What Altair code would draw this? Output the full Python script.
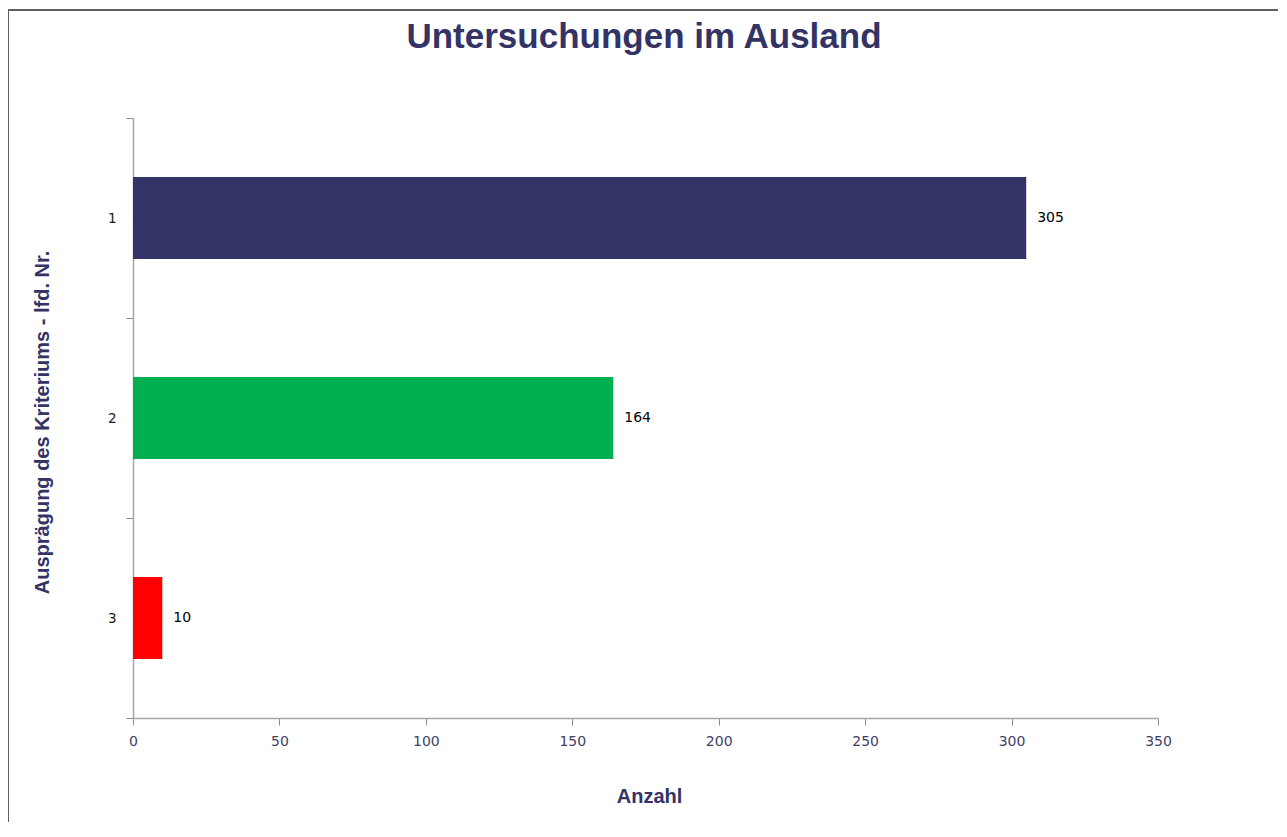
import altair as alt
import pandas as pd

# ---- data ----
categories = ["1", "2", "3"]
values = [305, 164, 10]
bar_colors = ["#333366", "#00B050", "#FF0000"]
x_ticks = [0, 50, 100, 150, 200, 250, 300, 350]

title_text = "Untersuchungen im Ausland"
y_title = "Ausprägung des Kriteriums - lfd. Nr."
x_title = "Anzahl"

df = pd.DataFrame({"nr": categories, "anzahl": values, "farbe": bar_colors})
one_row = pd.DataFrame({"k": [0]})

NAVY = "#333366"
AXIS_GREY = "#A6A6A6"

y_enc = alt.Y(
    "nr:N",
    sort=categories,
    scale=alt.Scale(paddingInner=0, paddingOuter=0),
    axis=alt.Axis(
        title=y_title,
        tickBand="extent",
        tickSize=7,
        tickColor="#8C8C8C",
        domainColor=AXIS_GREY,
        domainWidth=1.5,
        labelPadding=10,
        labelFont="DejaVu Sans",
        labelFontSize=13.5,
        labelColor="#1A1A1A",
        labelAngle=0,
        titleFont="Liberation Sans",
        titleFontSize=20,
        titleFontWeight="bold",
        titleColor=NAVY,
        titleAngle=270,
        titleBaseline="alphabetic",
        titleAlign="center",
        titleX=-85,
        titleY=304,
        grid=False,
    ),
)

x_enc = alt.X(
    "anzahl:Q",
    scale=alt.Scale(domain=[0, 350], nice=False, zero=True),
    axis=alt.Axis(
        title=x_title,
        values=x_ticks,
        tickSize=7,
        tickColor="#8C8C8C",
        domainColor=AXIS_GREY,
        domainWidth=1.5,
        labelPadding=9,
        labelFlush=False,
        labelFont="DejaVu Sans",
        labelFontSize=14,
        labelColor="#3F3F66",
        titleFont="Liberation Sans",
        titleFontSize=20,
        titleFontWeight="bold",
        titleColor=NAVY,
        titleBaseline="alphabetic",
        titleAlign="center",
        titleX=516,
        titleY=84,
        grid=False,
    ),
)

bars = alt.Chart(df).mark_bar(height={"band": 0.41}).encode(
    x=x_enc,
    y=y_enc,
    color=alt.Color("farbe:N", scale=None, legend=None),
)

labels = alt.Chart(df).mark_text(
    align="left", baseline="middle", dx=11,
    font="DejaVu Sans", fontSize=14, color="#000000",
).encode(
    x=alt.X("anzahl:Q"),
    y=alt.Y("nr:N", sort=categories),
    text=alt.Text("anzahl:Q"),
)

title_mark = alt.Chart(one_row).mark_text(
    align="center", baseline="alphabetic",
    font="Liberation Sans", fontSize=35, fontWeight="bold", color=NAVY,
).encode(
    x=alt.value(511),
    y=alt.value(-70),
    text=alt.value(title_text),
)

frame_left = alt.Chart(one_row).mark_rule(color="#606060", strokeWidth=2).encode(
    x=alt.value(-125), y=alt.value(-108), y2=alt.value(800)
)
frame_top = alt.Chart(one_row).mark_rule(color="#606060", strokeWidth=2).encode(
    x=alt.value(-126), x2=alt.value(1200), y=alt.value(-108)
)

chart = alt.layer(bars, labels, title_mark, frame_left, frame_top).properties(
    width=1025,
    height=600,
    background="white",
    autosize=alt.AutoSizeParams(type="none"),
    padding={"left": 125, "top": 110, "right": 120, "bottom": 104},
).configure_view(strokeWidth=0, stroke="transparent")

chart.save("out.html", embed_options={"renderer": "svg", "actions": False})
